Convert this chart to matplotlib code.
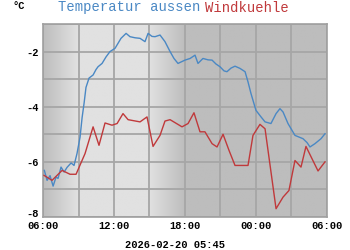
import numpy as np
import matplotlib
matplotlib.use("Agg")
import matplotlib.pyplot as plt
from matplotlib.transforms import ScaledTranslation

# hours since 06:00 on the previous day
temp_hours = [0.11, 0.34, 0.59, 0.85, 1.10, 1.27, 1.52, 1.78, 2.03, 2.37,
              2.62, 2.87, 3.13, 3.30, 3.47, 3.63, 3.89, 4.23, 4.48, 4.65,
              4.99, 5.33, 5.66, 6.09, 6.34, 6.59, 7.02, 7.35, 7.78, 8.20,
              8.62, 8.88, 9.21, 9.47, 9.89, 10.31, 10.74, 11.07, 11.41, 12.00,
              12.43, 12.85, 13.10, 13.52, 13.95, 14.29, 14.62, 14.96, 15.30, 15.55,
              15.89, 16.23, 16.65, 17.08, 17.33, 17.58, 18.00, 18.43, 18.77, 19.27,
              19.70, 20.03, 20.29, 20.71, 21.30, 21.98, 22.32, 22.57, 22.99, 23.50,
              23.84]
temp_values = [-6.31, -6.67, -6.50, -6.88, -6.55, -6.60, -6.19, -6.37, -6.20, -6.04,
               -6.13, -5.70, -5.10, -4.40, -3.87, -3.30, -2.96, -2.85, -2.65, -2.55,
               -2.43, -2.19, -2.00, -1.88, -1.70, -1.52, -1.34, -1.46, -1.50, -1.52,
               -1.64, -1.34, -1.45, -1.46, -1.40, -1.64, -2.00, -2.25, -2.43, -2.31,
               -2.25, -2.13, -2.43, -2.25, -2.30, -2.31, -2.45, -2.55, -2.70, -2.73,
               -2.60, -2.53, -2.61, -2.73, -3.10, -3.52, -4.13, -4.37, -4.55, -4.61,
               -4.25, -4.07, -4.19, -4.61, -5.04, -5.16, -5.30, -5.46, -5.34, -5.16,
               -4.98]

chill_hours = [0.08, 0.76, 1.61, 2.28, 2.79, 3.55, 4.23, 4.73, 5.24, 5.83,
               6.26, 6.76, 7.19, 8.20, 8.79, 9.30, 9.89, 10.31, 10.74, 11.75,
               12.26, 12.76, 13.27, 13.69, 14.29, 14.71, 15.22, 15.72, 16.23, 17.33,
               17.75, 18.34, 18.77, 19.70, 20.29, 20.79, 21.30, 21.81, 22.23, 23.25,
               23.84]
chill_values = [-6.49, -6.67, -6.31, -6.45, -6.45, -5.70, -4.73, -5.40, -4.59, -4.67,
                -4.61, -4.25, -4.47, -4.55, -4.37, -5.44, -5.04, -4.52, -4.47, -4.73,
                -4.61, -4.22, -4.91, -4.91, -5.34, -5.46, -5.00, -5.58, -6.13, -6.13,
                -5.04, -4.64, -4.80, -7.70, -7.28, -7.04, -5.95, -6.19, -5.44, -6.33,
                -6.00]

tick_hours = [0, 6, 12, 18, 24]
tick_labels = ["06:00", "12:00", "18:00", "00:00", "06:00"]
ytick_values = [-2, -4, -6, -8]

# daylight shading (hours since 06:00)
dawn_start, dawn_end = 0.0, 2.9
dusk_start, dusk_end = 9.0, 12.0

BLUE = "#4a88c4"
RED = "#c0393b"
MONO = "Liberation Mono"

fig = plt.figure(figsize=(3.5, 2.5), dpi=100)
ax = fig.add_axes([0.123, 0.132, 0.811, 0.772])

# background: night grey, day light grey, gradients at dawn/dusk
xs = np.linspace(0, 24, 600)
shade = np.interp(xs, [0, dawn_start, dawn_end, dusk_start, dusk_end, 24],
                  [0.74, 0.74, 0.88, 0.88, 0.74, 0.74])
ax.imshow(np.tile(shade, (2, 1)), cmap="gray", vmin=0, vmax=1,
          extent=[0, 24, -8, -1], aspect="auto", zorder=0, interpolation="bilinear")

ax.plot(temp_hours, temp_values, color=BLUE, lw=1.0, zorder=3)
ax.plot(chill_hours, chill_values, color=RED, lw=1.0, zorder=3)

ax.set_xlim(0, 24)
ax.set_ylim(-8, -1)
ax.set_xticks(tick_hours)
ax.set_xticklabels(tick_labels)
ax.set_xticks(np.arange(0, 25, 3), minor=True)
ax.set_yticks(ytick_values)
ax.set_yticklabels([str(v) for v in ytick_values])
ax.set_yticks(np.arange(-8, 0, 1), minor=True)
ax.grid(which="both", color="#a6a6a6", lw=1.3, zorder=1)
ax.set_axisbelow(True)
ax.tick_params(which="both", length=0, pad=3)
for lab in ax.get_xticklabels() + ax.get_yticklabels():
    lab.set_fontfamily(MONO)
    lab.set_fontweight("bold")
    lab.set_fontsize(7.5)
# lift the bottom y label a little so it clears the first time label
low = ax.get_yticklabels()[-1]
low.set_transform(low.get_transform() + ScaledTranslation(0, 3 / 72, fig.dpi_scale_trans))
for sp in ax.spines.values():
    sp.set_color("#a0a0a0")
    sp.set_linewidth(1.2)

fig.text(0.035, 0.975, "°C", fontfamily=MONO, fontsize=7.5, fontweight="bold",
         ha="left", va="center")
fig.text(0.165, 0.97, "Temperatur aussen", color=BLUE, fontfamily=MONO,
         fontsize=10, ha="left", va="center")
fig.text(0.585, 0.97, "Windkuehle", color=RED, fontfamily=MONO,
         fontsize=10, ha="left", va="center")
fig.text(0.5, 0.018, "2026-02-20 05:45", fontfamily=MONO, fontsize=7.5,
         fontweight="bold", ha="center", va="center")

fig.savefig("out.png", dpi=100)
